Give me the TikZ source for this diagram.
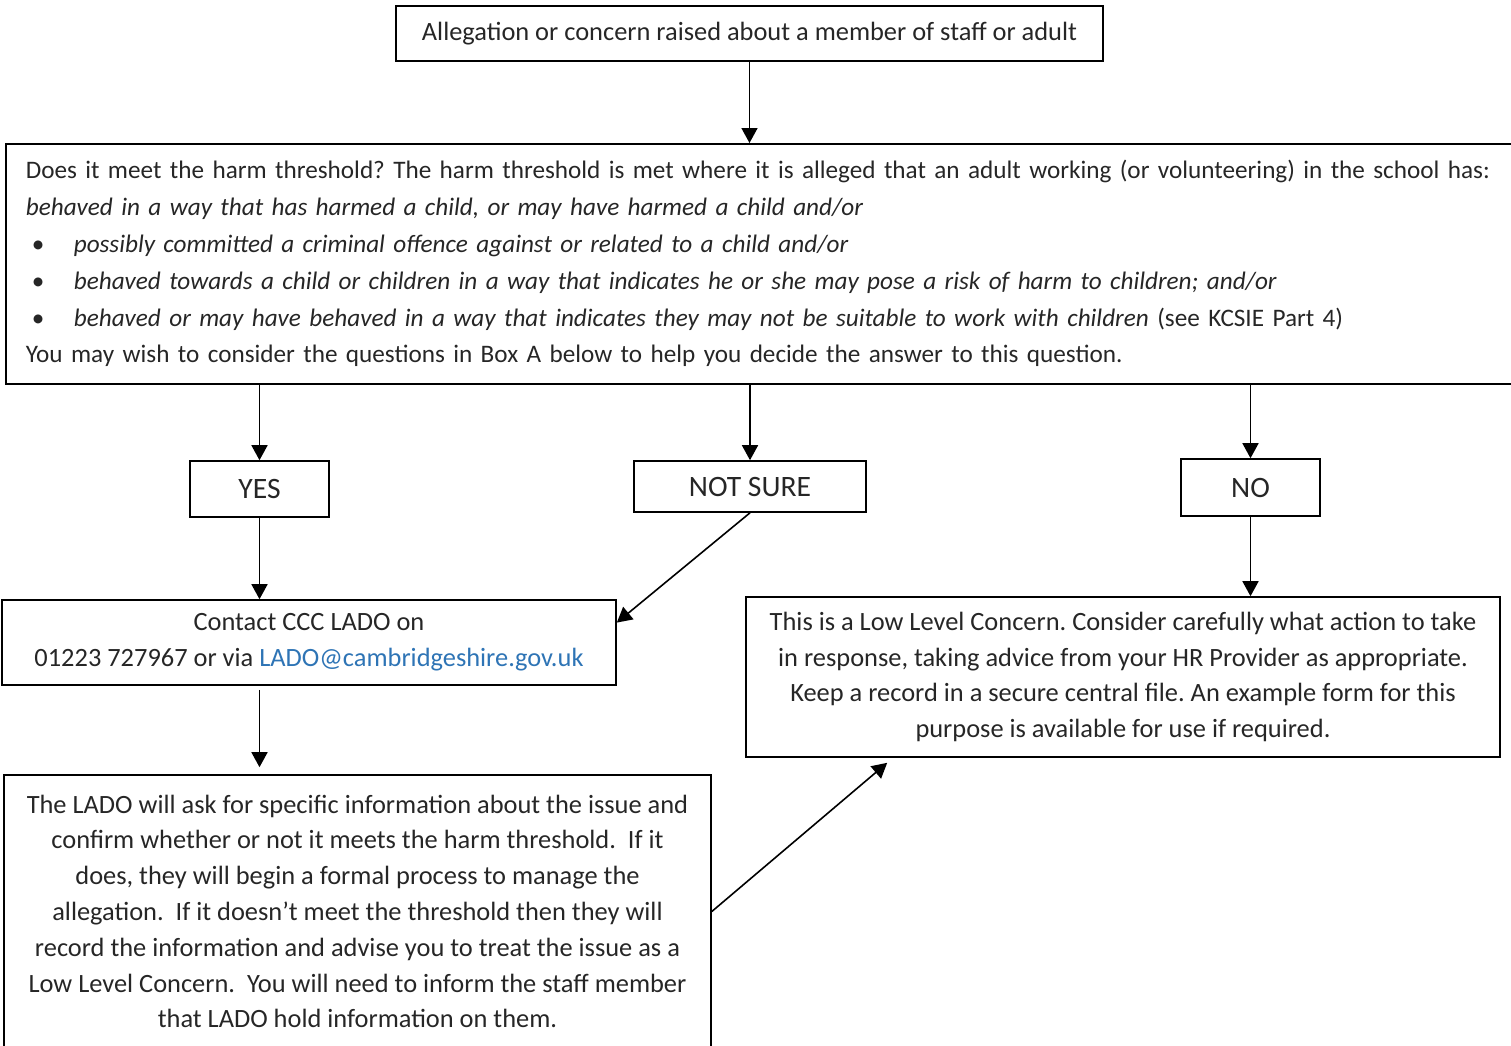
\documentclass[tikz,border=0pt]{standalone}
\usepackage{fontspec}
\setmainfont{Carlito}
\usepackage{tikz}
\usetikzlibrary{positioning,calc,arrows.meta}
\definecolor{ladoblue}{RGB}{46,116,181}
\newcommand{\harmbullet}{\hspace*{3pt}\makebox[21pt][l]{\textbullet}}
\frenchspacing

\tikzset{
  box/.style={draw, line width=0.8pt, rectangle, inner sep=0pt, align=center,
    text=black!85, font=\fontsize{13.2}{17.9}\selectfont},
  choice/.style={box, font=\fontsize{14.8}{16}\selectfont},
  flow/.style={-{Triangle[length=7.5pt,width=8pt]}, line width=0.8pt},
}

\begin{document}
\begin{tikzpicture}[x=0.5pt,y=-0.5pt]
  \useasboundingbox (0,0) rectangle (1511,1045);
  % start
  \node[box, minimum width=353.5pt, minimum height=27.5pt] (top) at (749.5,33.5)
    {Allegation or concern raised about a member of staff or adult};
  % harm threshold question
  \node[box, anchor=north west, align=left, text width=745pt, inner xsep=10pt,
    minimum height=120pt, font=\fontsize{12.6}{18.4}\selectfont] (harm) at (5,143)
    {Does it meet the harm threshold? The harm threshold is met where it is alleged that an adult working (or volunteering) in the school has:\\
     \textit{behaved in a way that has harmed a child, or may have harmed a child and/or}\\
     \harmbullet\textit{possibly committed a criminal offence against or related to a child and/or}\\
     \harmbullet\textit{behaved towards a child or children in a way that indicates he or she may pose a risk of harm to children; and/or}\\
     \harmbullet\textit{behaved or may have behaved in a way that indicates they may not be suitable to work with children} (see KCSIE Part 4)\\
     You may wish to consider the questions in Box A below to help you decide the answer to this question.};
  % answers
  \node[choice, minimum width=69.5pt, minimum height=28pt] (yes) at (259.5,489) {YES};
  \node[choice, minimum width=116pt, minimum height=25.5pt] (notsure) at (750,486.5) {NOT SURE};
  \node[choice, minimum width=69.5pt, minimum height=28.5pt] (no) at (1250.5,487.5) {NO};
  % outcomes
  \node[box, minimum width=307pt, minimum height=42.5pt] (contact) at (309,642.5)
    {Contact CCC LADO on\\ 01223 727967 or via \textcolor{ladoblue}{LADO@cambridgeshire.gov.uk}};
  \node[box, minimum width=377pt, minimum height=80pt] (low) at (1123,677)
    {This is a Low Level Concern. Consider carefully what action to take\\
     in response, taking advice from your HR Provider as appropriate.\\
     Keep a record in a secure central file. An example form for this\\
     purpose is available for use if required.};
  \node[box, minimum width=353.5pt, minimum height=136.5pt] (lado) at (357.5,911.5)
    {The LADO will ask for specific information about the issue and\\
     confirm whether or not it meets the harm threshold.\ \ If it\\
     does, they will begin a formal process to manage the\\
     allegation.\ \ If it doesn't meet the threshold then they will\\
     record the information and advise you to treat the issue as a\\
     Low Level Concern.\ \ You will need to inform the staff member\\
     that LADO hold information on them.};
  % connectors
  \draw[flow] (top.south) -- (top.south |- harm.north);
  \draw[flow] (yes.north |- harm.south) -- (yes.north);
  \draw[flow] (notsure.north |- harm.south) -- (notsure.north);
  \draw[flow] (no.north |- harm.south) -- (no.north);
  \draw[flow] (yes.south) -- (yes.south |- contact.north);
  \draw[flow] (notsure.south) -- ($(contact.north east)!0.27!(contact.south east)$);
  \draw[flow] (no.south) -- (no.south |- low.north);
  \draw[flow] ($(yes.south |- contact.south)+(0,4)$) -- ($(yes.south |- lado.north)+(0,-7)$);
  \draw[flow] (lado.east) -- ($(low.south west)+(142,5)$);
\end{tikzpicture}
\end{document}
